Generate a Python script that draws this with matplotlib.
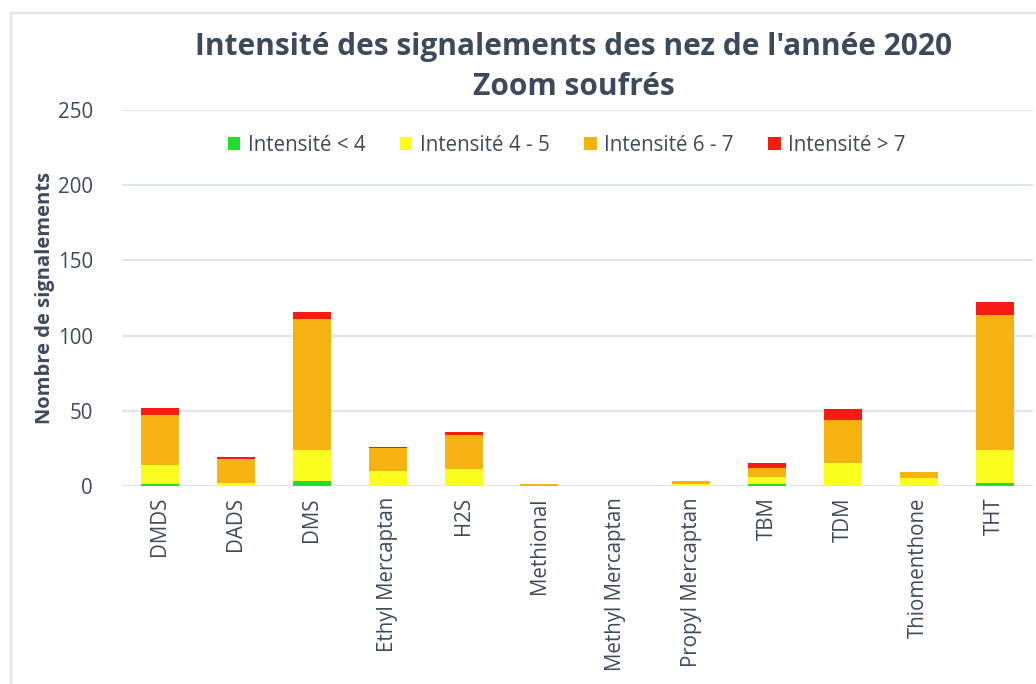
import matplotlib.pyplot as plt
import numpy as np
from matplotlib.lines import Line2D
from matplotlib.patches import Patch

plt.rcParams['font.family'] = ['Open Sans', 'DejaVu Sans']

categories = ['DMDS', 'DADS', 'DMS', 'Ethyl Mercaptan', 'H2S', 'Methional',
              'Methyl Mercaptan', 'Propyl Mercaptan', 'TBM', 'TDM',
              'Thiomenthone', 'THT']
intens_lt4 = [1, 0, 3, 0, 0, 0, 0, 0, 1, 0, 0, 2]
intens_4_5 = [13, 2, 21, 10, 11, 0, 0, 1, 5, 15, 5, 22]
intens_6_7 = [33, 16, 87, 15, 23, 1, 0, 2, 6, 29, 4, 90]
intens_gt7 = [5, 1, 5, 1, 2, 0, 0, 0, 3, 7, 0, 8]

series_labels = ['Intensité < 4', 'Intensité 4 - 5', 'Intensité 6 - 7', 'Intensité > 7']
colors = ['#22dd2c', '#fbff1f', '#f6b210', '#f81b13']
text_color = '#3d4a5c'
grid_color = '#e1e5ec'

fig = plt.figure(figsize=(10.36, 6.84), dpi=100)
ax = fig.add_axes([0.1178, 0.2895, 0.879, 0.5497])

x = np.arange(len(categories))
bottom = np.zeros(len(categories))
for vals, col in zip([intens_lt4, intens_4_5, intens_6_7, intens_gt7], colors):
    ax.bar(x, vals, width=0.5, bottom=bottom, color=col, edgecolor='none', zorder=3)
    bottom += np.array(vals)

ax.set_xlim(-0.5, len(categories) - 0.5)
ax.set_ylim(0, 250)
ax.set_yticks([0, 50, 100, 150, 200, 250])
ax.yaxis.grid(True, color=grid_color, linewidth=1.5, zorder=0)
ax.set_axisbelow(True)
for s in ax.spines.values():
    s.set_visible(False)
ax.tick_params(axis='both', length=0, colors=text_color, labelsize=14.8)
ax.tick_params(axis='y', pad=21)
ax.tick_params(axis='x', pad=8)
ax.set_xticks(x)
ax.set_xticklabels(categories, rotation=90)
ax.set_ylabel('Nombre de signalements', fontsize=14.5, fontweight='bold',
              color=text_color)
ax.yaxis.set_label_coords(-0.074, 0.5)

fig.text(0.554, 0.931, "Intensité des signalements des nez de l'année 2020",
         ha='center', va='center', fontsize=21.5, fontweight='bold', color=text_color)
fig.text(0.554, 0.873, "Zoom soufrés",
         ha='center', va='center', fontsize=21.5, fontweight='bold', color=text_color)

handles = [Patch(facecolor=c, edgecolor='none') for c in colors]
fig.legend(handles, series_labels, loc='center', bbox_to_anchor=(0.547, 0.787),
           ncol=4, frameon=False, fontsize=14.8, handlelength=0.6,
           handleheight=0.6, handletextpad=0.35, columnspacing=1.7,
           labelcolor=text_color)

# card border (left and top edges visible)
fig.add_artist(Line2D([11 / 1036, 11 / 1036], [0, 1 - 13 / 684],
                      transform=fig.transFigure, color=grid_color, linewidth=1.5))
fig.add_artist(Line2D([11 / 1036, 1], [1 - 13 / 684, 1 - 13 / 684],
                      transform=fig.transFigure, color=grid_color, linewidth=1.5))

fig.savefig('out.png', dpi=100)
